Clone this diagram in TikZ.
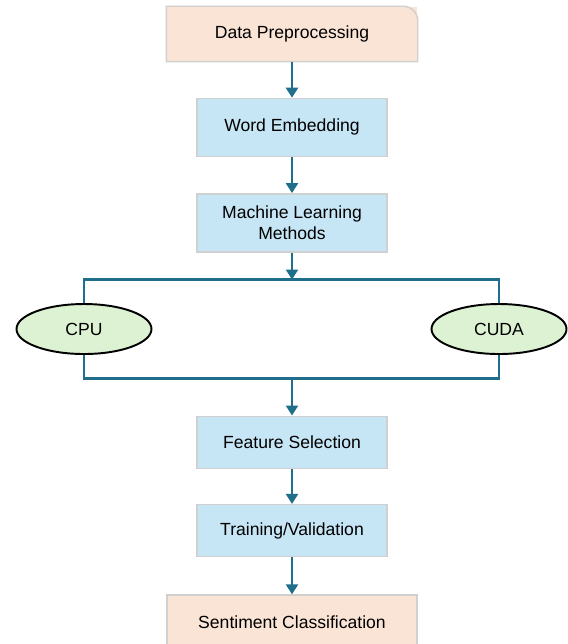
\documentclass[tikz,border=0pt]{standalone}
\usepackage{fontspec}
\setmainfont{Liberation Sans}
\usepackage{xcolor}
\usepackage{tikz}
\usetikzlibrary{arrows.meta,positioning,shapes.geometric,calc}

\definecolor{peachfill}{HTML}{FAE4D6}
\definecolor{bluefill}{HTML}{C7E6F5}
\definecolor{greenfill}{HTML}{DDF2D3}
\definecolor{boxline}{HTML}{D0D0D0}
\definecolor{flowline}{HTML}{1F6E8C}

\begin{document}
\begin{tikzpicture}[
  endbox/.style={rectangle, draw=boxline, line width=0.8pt, fill=peachfill, align=center, minimum width=5cm, minimum height=1.08cm, font=\fontsize{10}{12}\selectfont},
  stagebox/.style={rectangle, draw=boxline, line width=0.8pt, fill=bluefill, align=center, minimum width=3.8cm, minimum height=1.16cm, font=\fontsize{10}{12}\selectfont},
  proc/.style={ellipse, draw=black, line width=1.1pt, fill=greenfill, minimum width=2.7cm, minimum height=1cm, font=\fontsize{10}{12}\selectfont},
  arrow/.style={-{Triangle[length=2mm,width=2.4mm]}, line width=1.3pt, draw=flowline},
  bus/.style={line width=1.3pt, draw=flowline}
]
\useasboundingbox (0,0) rectangle (11.34,-12.88);

\node[endbox, draw=none] (prep) at (5.84,-0.68) {Data Preprocessing};
\node[stagebox, below=0.72cm of prep] (embed) {Word Embedding};
\node[stagebox, below=0.72cm of embed] (ml) {Machine Learning\\Methods};
\coordinate[below=0.54cm of ml] (split);
\coordinate[below=1.98cm of split] (join);
\node[stagebox, minimum height=1.04cm, below=0.74cm of join] (feat) {Feature Selection};
\node[stagebox, minimum height=1.04cm, below=0.70cm of feat] (train) {Training/Validation};
\node[endbox, below=0.74cm of train] (sent) {Sentiment Classification};

\node[proc, xshift=-4.16cm] (cpu) at ($(split)!0.5!(join)$) {CPU};
\node[proc, xshift=4.14cm] (cuda) at ($(split)!0.5!(join)$) {CUDA};

% top box: only the upper right corner is rounded
\draw[boxline, line width=0.8pt] (prep.south west) -- (prep.north west)
  -- ([xshift=-8pt]prep.north east) arc[start angle=90, end angle=0, radius=8pt]
  -- (prep.south east) -- cycle;

\draw[arrow] (prep) -- (embed);
\draw[arrow] (embed) -- (ml);
\draw[arrow] (ml) -- (split);
\draw[bus] (cpu.north) |- (split) -| (cuda.north);
\draw[bus] (cpu.south) |- (join) -| (cuda.south);
\draw[arrow] (join) -- (feat);
\draw[arrow] (feat) -- (train);
\draw[arrow] (train) -- (sent);
\end{tikzpicture}
\end{document}
